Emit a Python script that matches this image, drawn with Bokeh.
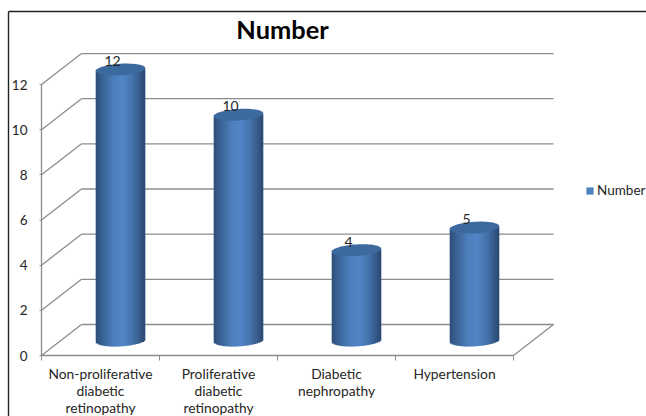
import math
from bokeh.plotting import figure
from bokeh.models import (FixedTicker, Legend, LegendItem, LinearAxis, Range1d)
from bokeh.embed import file_html
from bokeh.resources import INLINE
from bokeh.core.properties import value

categories = ["Non-proliferative\ndiabetic\nretinopathy",
              "Proliferative\ndiabetic\nretinopathy",
              "Diabetic\nnephropathy",
              "Hypertension"]
numbers = [12, 10, 4, 5]
y_ticks = [0, 2, 4, 6, 8, 10, 12]
series_name = "Number"

# pixel scale of the pseudo-3D projection
PX_X, PX_Y = 118.0, 22.58
ORIGIN_X, ORIGIN_Y = 41, 355                  # page pixel of the front-left axis corner
DEPTH_X, DEPTH_Y = 40 / PX_X, 31 / PX_Y       # wall depth
MID_X, MID_Y = 0.5 + 20 / PX_X, 15 / PX_Y     # bars sit mid-depth
HALF_W, CAP_H, TILT = 24.7 / PX_X, 5.8 / PX_Y, 1.5 / PX_Y

GRID = "#8C8C8C"
TEXT = "#262626"
FONT = "Lato"
STOPS = [(-1.0, (44, 78, 120)), (-0.72, (58, 99, 150)), (-0.25, (78, 128, 190)),
         (0.1, (82, 133, 198)), (0.55, (66, 110, 166)), (1.0, (42, 72, 110))]


def shade(u):
    for (a, ca), (b, cb) in zip(STOPS, STOPS[1:]):
        if u <= b:
            t = (u - a) / (b - a)
            return "#%02x%02x%02x" % tuple(round(p + (q - p) * t) for p, q in zip(ca, cb))
    return "#2a486e"


W, H = 646, 416
x_min, x_max = -ORIGIN_X / PX_X, (W - ORIGIN_X) / PX_X
y_min, y_max = (ORIGIN_Y - H) / PX_Y, ORIGIN_Y / PX_Y
p = figure(width=W, height=H, output_backend="svg", toolbar_location=None,
           x_range=Range1d(x_min, x_max), y_range=Range1d(y_min, y_max),
           x_axis_type=None, y_axis_type=None,
           min_border=0, outline_line_color=None,
           background_fill_color="white", border_fill_color="white")
p.grid.visible = False

# chart border: only its left and top sides reach the page
edge_x = (8 - ORIGIN_X) / PX_X
edge_y = (ORIGIN_Y - 11) / PX_Y
p.segment(x0=[edge_x, edge_x], x1=[edge_x, x_max], y0=[y_min, edge_y], y1=[edge_y, edge_y],
          line_color="#222222", line_width=1.4)

# walls
p.segment(x0=[DEPTH_X] * len(y_ticks), x1=[4 + DEPTH_X] * len(y_ticks),
          y0=[v + DEPTH_Y for v in y_ticks], y1=[v + DEPTH_Y for v in y_ticks],
          line_color=GRID, line_width=1.3)
p.segment(x0=[0] * len(y_ticks), x1=[DEPTH_X] * len(y_ticks),
          y0=y_ticks, y1=[v + DEPTH_Y for v in y_ticks], line_color=GRID, line_width=1.3)
p.segment(x0=[4], x1=[4 + DEPTH_X], y0=[0], y1=[DEPTH_Y], line_color=GRID, line_width=1.3)

# bars: flat base for the legend, then cylinder shading
centers = [i + MID_X for i in range(len(numbers))]
bar = p.vbar(x=centers, width=2 * HALF_W, bottom=MID_Y, top=[v + MID_Y for v in numbers],
             fill_color="#4F81BD", line_color=None)

N = 25
for cx, v in zip(centers, numbers):
    left, right, bot, top, col = [], [], [], [], []
    for k in range(N):
        u0, u1 = -1 + 2 * k / N, -1 + 2 * (k + 1) / N
        um = (u0 + u1) / 2
        arc = CAP_H * math.sqrt(max(0.0, 1 - um * um))
        left.append(cx + u0 * HALF_W)
        right.append(cx + min(1.0, u1 + 1.0 / N) * HALF_W)
        bot.append(MID_Y - arc + TILT * um)
        top.append(v + MID_Y + TILT * um)
        col.append(shade(um))
    p.quad(left=left, right=right, bottom=bot, top=top, fill_color=col, line_color=None)
    ts = [2 * math.pi * j / 60 for j in range(60)]
    p.patch([cx + HALF_W * math.cos(t) for t in ts],
            [v + MID_Y + CAP_H * math.sin(t) + TILT * math.cos(t) for t in ts],
            fill_color="#3D6A9E", line_color=None)

# data labels
p.text(x=[i + 0.5 + 12 / PX_X for i in range(len(numbers))],
       y=[v + MID_Y + 8.5 / PX_Y for v in numbers], text=[str(v) for v in numbers],
       text_align="center", text_baseline="middle", text_font=value(FONT),
       text_font_size="14px", text_color=TEXT)

# axes, fixed on the front corner
yax = LinearAxis(ticker=FixedTicker(ticks=y_ticks), bounds=(0, 12), fixed_location=0)
yax.axis_line_color = GRID
yax.axis_line_width = 1.3
yax.major_tick_line_color = GRID
yax.major_tick_out = 2
yax.major_tick_in = 0
yax.major_label_standoff = 12
yax.major_label_text_font = FONT
yax.major_label_text_font_size = "13.5px"
yax.major_label_text_color = TEXT
p.add_layout(yax, "left")

xax = LinearAxis(ticker=FixedTicker(ticks=[i + 0.5 for i in range(len(categories))],
                                    minor_ticks=list(range(len(categories) + 1))),
                 bounds=(0, len(categories)), fixed_location=0)
xax.major_label_overrides = {i + 0.5: c for i, c in enumerate(categories)}
xax.axis_line_color = GRID
xax.axis_line_width = 1.3
xax.major_tick_out = 0
xax.major_tick_in = 0
xax.minor_tick_line_color = GRID
xax.minor_tick_out = 5
xax.minor_tick_in = 0
xax.major_label_standoff = 4
xax.major_label_text_font = FONT
xax.major_label_text_font_size = "13.8px"
xax.major_label_text_color = TEXT
xax.major_label_text_line_height = 1.0
p.add_layout(xax, "below")

# title
p.text(x=[(282 - ORIGIN_X) / PX_X], y=[(ORIGIN_Y - 28) / PX_Y], text=[series_name],
       text_align="center", text_baseline="middle", text_font=value(FONT),
       text_font_size="25.4px", text_font_style="bold", text_color="#000000")

# legend
legend = Legend(items=[LegendItem(label=series_name, renderers=[bar])], location=(585, 218),
                border_line_color=None, background_fill_alpha=0, glyph_width=9, glyph_height=9,
                label_text_font=FONT, label_text_font_size="13.5px", label_text_color=TEXT,
                margin=0, padding=0, label_standoff=3)
p.add_layout(legend)

open("out.html", "w").write(file_html(p, INLINE))
